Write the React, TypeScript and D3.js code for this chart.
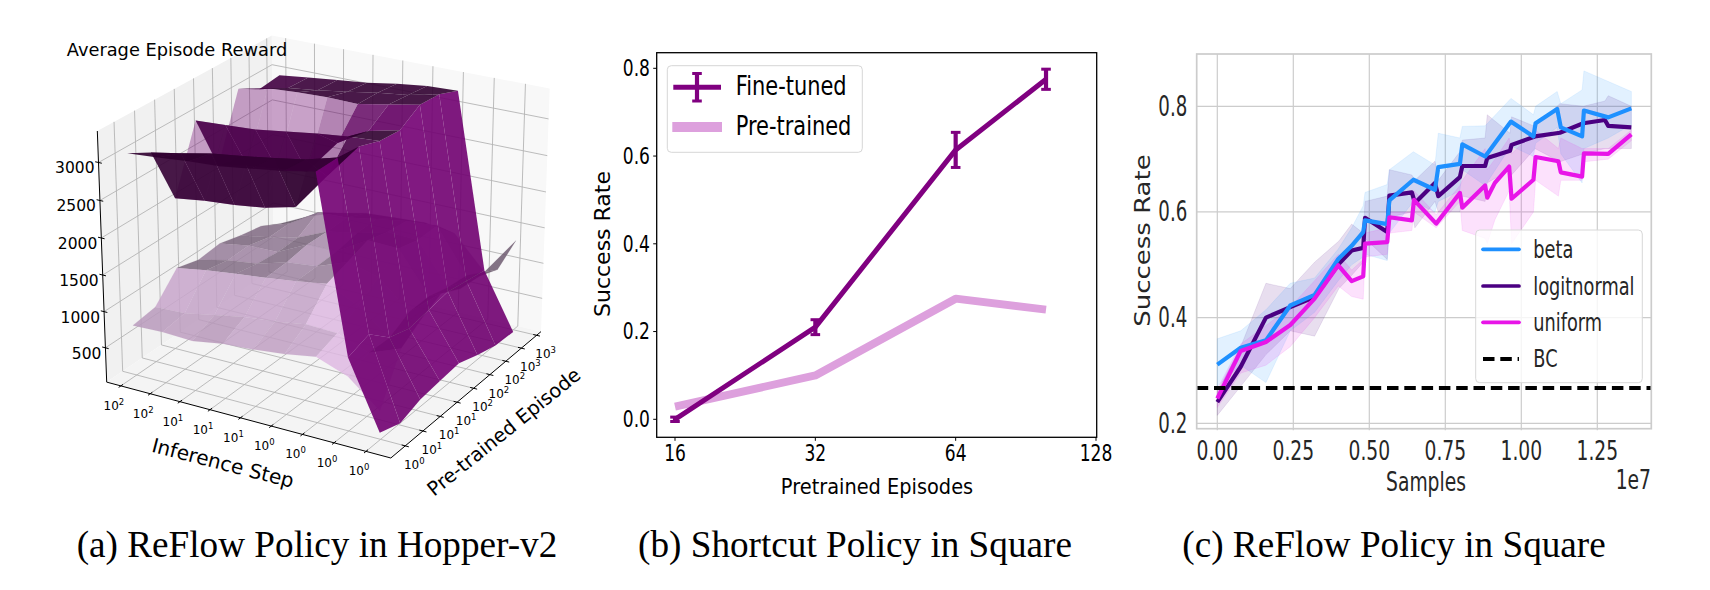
import * as d3 from "d3";

// ---------- panel (a): surfaces, rows run front to back, columns left to right
const fineRow0 = [3107, 3138, 3179, 3201, 3259, 3317, 3400, 1094, 200];
const fineRow1 = [2942, 3018, 3103, 3156, 3219, 3286, 3400, 1192, 100];
const fineRow2 = [2147, 2205, 2241, 2295, 2397, 2893, 3366, 937, 200];
const fineRow3 = [3027, 3050, 3076, 3134, 3192, 3237, 3263, 850, 232];
const fineRow4 = [2237, 2326, 2375, 2420, 2893, 3138, 3232, 900, 263];
const fineRow5 = [3127, 3215, 3243, 3254, 3248, 3322, 3400, 950, 165];
const fineRow6 = [2956, 3054, 3107, 3166, 3234, 3283, 3375, 900, 85];
const fineRow7 = [2990, 3039, 3083, 3127, 3195, 3244, 3258, 850, 70];
const fineRows = [fineRow0, fineRow1, fineRow2, fineRow3, fineRow4, fineRow5, fineRow6, fineRow7];

const plumRow0 = [795, 808, 790, 857, 884, 928, 1000, 844, 490];
const plumRow1 = [844, 857, 937, 1013, 1053, 1120, 1102, 946, 1107];
const plumRow2 = [1187, 1254, 1303, 1348, 1397, 1464, 1268, 933, 1295];
const plumRow3 = [1107, 1196, 1245, 1362, 1406, 1562, 1455, 1080, 1437];
const plumRow4 = [1143, 1210, 1214, 1415, 1420, 1665, 1647, 1089, 1295];
const plumRow5 = [1067, 1134, 1228, 1406, 1478, 1589, 1571, 1013, 1263];
const plumRow6 = [1009, 1143, 1393, 1415, 1487, 1553, 1580, 978, 1160];
const plumRow7 = [862, 1062, 1200, 1290, 1317, 1339, 1277, 830, 1370];
const plumRows = [plumRow0, plumRow1, plumRow2, plumRow3, plumRow4, plumRow5, plumRow6, plumRow7];

const zTicks = [500, 1000, 1500, 2000, 2500, 3000];
const xTickExp = ["2", "2", "1", "1", "1", "0", "0", "0", "0"];
const yTickExp = ["0", "1", "1", "1", "2", "2", "2", "3", "3"];

// ---------- panel (b)
const episodes = [16, 32, 64, 100];
const fineTuned = [0, 0.21, 0.614, 0.775];
const fineTunedErr = [0.005, 0.017, 0.04, 0.023];
const preTrained = [0.029, 0.1, 0.275, 0.25];
const bYTicks = [0, 0.2, 0.4, 0.6, 0.8];
const bXTicks = [16, 32, 64, 128];

// ---------- panel (c)
const betaX = [0, 0.077, 0.16, 0.24, 0.32, 0.398, 0.442, 0.48, 0.486, 0.559, 0.566, 0.645, 0.716, 0.727, 0.798, 0.806, 0.881, 0.966, 1.04, 1.047, 1.118, 1.13, 1.2, 1.206, 1.286, 1.362];
const betaY = [0.311, 0.343, 0.357, 0.423, 0.443, 0.511, 0.536, 0.562, 0.584, 0.577, 0.622, 0.661, 0.642, 0.685, 0.691, 0.728, 0.705, 0.771, 0.743, 0.768, 0.795, 0.76, 0.743, 0.792, 0.779, 0.796];
const betaHi = [0.36, 0.375, 0.415, 0.465, 0.475, 0.53, 0.57, 0.612, 0.637, 0.652, 0.68, 0.714, 0.689, 0.749, 0.74, 0.762, 0.763, 0.815, 0.784, 0.8, 0.828, 0.805, 0.831, 0.867, 0.847, 0.828];
const betaLo = [0.27, 0.31, 0.277, 0.375, 0.41, 0.47, 0.5, 0.515, 0.52, 0.508, 0.56, 0.62, 0.6, 0.62, 0.64, 0.68, 0.65, 0.725, 0.705, 0.73, 0.76, 0.71, 0.655, 0.72, 0.74, 0.765];

const logitX = [0, 0.077, 0.16, 0.24, 0.32, 0.4, 0.442, 0.48, 0.486, 0.559, 0.566, 0.64, 0.65, 0.716, 0.727, 0.798, 0.806, 0.881, 0.888, 0.963, 0.968, 1.045, 1.127, 1.204, 1.275, 1.286, 1.362];
const logitY = [0.24, 0.307, 0.4, 0.42, 0.439, 0.502, 0.527, 0.532, 0.589, 0.562, 0.631, 0.637, 0.617, 0.655, 0.63, 0.666, 0.687, 0.687, 0.702, 0.716, 0.727, 0.743, 0.75, 0.768, 0.774, 0.763, 0.76];
const logitHi = [0.26, 0.345, 0.465, 0.455, 0.505, 0.545, 0.577, 0.56, 0.62, 0.63, 0.68, 0.67, 0.66, 0.696, 0.66, 0.714, 0.736, 0.74, 0.784, 0.749, 0.78, 0.762, 0.805, 0.8, 0.81, 0.82, 0.8];
const logitLo = [0.215, 0.27, 0.33, 0.375, 0.365, 0.455, 0.48, 0.505, 0.55, 0.51, 0.59, 0.6, 0.57, 0.62, 0.6, 0.6, 0.63, 0.62, 0.655, 0.68, 0.67, 0.72, 0.695, 0.71, 0.72, 0.72, 0.72];

const uniformX = [0, 0.077, 0.16, 0.24, 0.32, 0.398, 0.442, 0.48, 0.486, 0.559, 0.566, 0.64, 0.647, 0.72, 0.798, 0.806, 0.881, 0.888, 0.913, 0.96, 0.968, 1.04, 1.047, 1.122, 1.13, 1.2, 1.206, 1.286, 1.362];
const uniformY = [0.247, 0.337, 0.354, 0.386, 0.436, 0.499, 0.469, 0.478, 0.54, 0.543, 0.59, 0.584, 0.623, 0.578, 0.636, 0.608, 0.65, 0.627, 0.655, 0.686, 0.625, 0.661, 0.704, 0.696, 0.675, 0.667, 0.711, 0.71, 0.747];
const uniformHi = [0.265, 0.35, 0.385, 0.42, 0.47, 0.52, 0.49, 0.51, 0.56, 0.57, 0.6, 0.6, 0.64, 0.595, 0.65, 0.66, 0.72, 0.68, 0.7, 0.74, 0.71, 0.75, 0.755, 0.72, 0.74, 0.72, 0.72, 0.72, 0.755];
const uniformLo = [0.23, 0.295, 0.31, 0.345, 0.4, 0.46, 0.44, 0.435, 0.515, 0.52, 0.56, 0.565, 0.6, 0.57, 0.62, 0.565, 0.55, 0.54, 0.585, 0.64, 0.54, 0.6, 0.66, 0.63, 0.66, 0.66, 0.695, 0.7, 0.735];

const bcLevel = 0.2667;
const cXTicks = [0, 0.25, 0.5, 0.75, 1, 1.25];
const cYTicks = [0.2, 0.4, 0.6, 0.8];

const DEJAVU = "'DejaVu Sans', sans-serif";
const SERIF = "'Liberation Serif', serif";

// small text helper: the reference's panels are stretched, so labels need a scale
function T(props: { x: number; y: number; size: number; sx?: number; sy?: number; rot?: number; anchor?: string; fill?: string; font?: string; children: any }) {
  const { x, y, size, sx = 1, sy = 1, rot = 0, anchor = "middle", fill = "#000", font = DEJAVU, children } = props;
  return (
    <text
      transform={`translate(${x},${y}) rotate(${rot}) scale(${sx},${sy})`}
      fontFamily={font}
      fontSize={size}
      textAnchor={anchor}
      dominantBaseline="central"
      fill={fill}
    >
      {children}
    </text>
  );
}

// ---------- matplotlib-like camera, box taller than the default 4:4:3
const boxK = (1.8294640721620434 * (25 / 24)) / Math.hypot(4, 4, 3);
const box = [4 * boxK, 4 * boxK, 3.4 * boxK];
const elev = (23.7 * Math.PI) / 180;
const azim = (-60 * Math.PI) / 180;
const nv = [Math.cos(elev) * Math.cos(azim), Math.cos(elev) * Math.sin(azim), Math.sin(elev)];
const eye = [box[0] / 2 + 10 * nv[0], box[1] / 2 + 10 * nv[1], box[2] / 2 + 10 * nv[2]];
const uL = Math.hypot(nv[1], nv[0]);
const uv = [-nv[1] / uL, nv[0] / uL, 0];
const vv = [nv[1] * uv[2] - nv[2] * uv[1], nv[2] * uv[0] - nv[0] * uv[2], nv[0] * uv[1] - nv[1] * uv[0]];

function rawProject(u: number, v: number, w: number) {
  const d = [u * box[0] - eye[0], v * box[1] - eye[1], w * box[2] - eye[2]];
  const depth = -(d[0] * nv[0] + d[1] * nv[1] + d[2] * nv[2]);
  return {
    x: (d[0] * uv[0] + d[1] * uv[1] + d[2] * uv[2]) / depth,
    y: (d[0] * vv[0] + d[1] * vv[1] + d[2] * vv[2]) / depth,
    depth,
  };
}

const sx3 = d3.scaleLinear().domain([rawProject(0, 0, 0).x, rawProject(1, 1, 0).x]).range([106.7, 541]);
const sy3 = d3.scaleLinear().domain([rawProject(1, 0, 0).y, rawProject(0, 0, 1).y]).range([458, 131]);
const wScale = d3.scaleLinear().domain([20, 3410]).range([0, 1]);
const uGrid = d3.scaleLinear().domain([0, 8]).range([0.07, 0.935]);
const vGrid = d3.scaleLinear().domain([0, 7]).range([0.05, 0.93]);
const uTick = d3.scaleLinear().domain([0, 8]).range([0.0525, 0.917]);
const vTick = d3.scaleLinear().domain([0, 8]).range([0.088, 0.968]);

function P(u: number, v: number, w: number): [number, number] {
  const p = rawProject(u, v, w);
  return [sx3(p.x), sy3(p.y)];
}
const poly = (pts: [number, number][]) => d3.line()(pts) + "Z";

const light = [0.667, -0.667, 0.333];

function buildFacets(rows: number[][], rgb: number[], baseOpacity: number, fadeRising: boolean, zUnit: number) {
  const out: { d: string; fill: string; opacity: number; depth: number }[] = [];
  for (let j = 0; j < rows.length - 1; j++) {
    for (let i = 0; i < rows[j].length - 1; i++) {
      const a = rows[j][i], b = rows[j][i + 1], c = rows[j + 1][i + 1], e = rows[j + 1][i];
      const corners: [number, number, number][] = [
        [uGrid(i), vGrid(j), wScale(a)],
        [uGrid(i + 1), vGrid(j), wScale(b)],
        [uGrid(i + 1), vGrid(j + 1), wScale(c)],
        [uGrid(i), vGrid(j + 1), wScale(e)],
      ];
      const dzdu = (b + c - a - e) / 2;
      const dzdv = (c + e - a - b) / 2;
      const nx = -dzdu / zUnit, ny = -dzdv / zUnit;
      const len = Math.hypot(nx, ny, 1);
      const s = (nx * light[0] + ny * light[1] + light[2]) / len;
      const factor = 0.3 + (0.7 * (s + 1)) / 2;
      let opacity = baseOpacity;
      if (fadeRising) opacity -= Math.max(0, Math.min(1, (dzdv - 200) / 500)) * 0.55;
      const depth = d3.mean(corners, (k) => rawProject(k[0], k[1], k[2]).depth) as number;
      out.push({
        d: poly(corners.map((k) => P(k[0], k[1], k[2]))),
        fill: d3.rgb(rgb[0] * factor, rgb[1] * factor, rgb[2] * factor).formatHex(),
        opacity,
        depth,
      });
    }
  }
  return out.sort((p, q) => q.depth - p.depth);
}

function Surface3D() {
  const plumFacets = buildFacets(plumRows, [226, 188, 230], 0.85, false, 130);
  const fineFacets = buildFacets(fineRows, [128, 0, 128], 0.9, true, 30);
  const gridC = "#b4b4b4";
  const gl = (a: [number, number, number], b: [number, number, number], key: string) => {
    const p = P(a[0], a[1], a[2]), q = P(b[0], b[1], b[2]);
    return <line key={key} x1={p[0]} y1={p[1]} x2={q[0]} y2={q[1]} stroke={gridC} strokeWidth={0.9} />;
  };
  const tickU = d3.range(9).map((k) => uTick(k));
  const tickV = d3.range(9).map((k) => vTick(k));
  return (
    <g>
      <path d={poly([P(0, 0, 0), P(0, 1, 0), P(0, 1, 1), P(0, 0, 1)])} fill="#f1f1f1" />
      <path d={poly([P(0, 1, 0), P(1, 1, 0), P(1, 1, 1), P(0, 1, 1)])} fill="#f8f8f8" />
      <path d={poly([P(0, 0, 0), P(1, 0, 0), P(1, 1, 0), P(0, 1, 0)])} fill="#f4f4f4" />
      {tickU.map((u, i) => (
        <g key={"u" + i}>
          {gl([u, 0, 0], [u, 1, 0], "a")}
          {gl([u, 1, 0], [u, 1, 1], "b")}
        </g>
      ))}
      {tickV.map((v, i) => (
        <g key={"v" + i}>
          {gl([0, v, 0], [1, v, 0], "a")}
          {gl([0, v, 0], [0, v, 1], "b")}
        </g>
      ))}
      {zTicks.map((z) => (
        <g key={"z" + z}>
          {gl([0, 0, wScale(z)], [0, 1, wScale(z)], "a")}
          {gl([0, 1, wScale(z)], [1, 1, wScale(z)], "b")}
        </g>
      ))}
      {plumFacets.map((f, i) => (
        <path key={"p" + i} d={f.d} fill={f.fill} fillOpacity={f.opacity} stroke={f.fill} strokeOpacity={f.opacity * 0.4} strokeWidth={0.3} />
      ))}
      {fineFacets.map((f, i) => (
        <path key={"f" + i} d={f.d} fill={f.fill} fillOpacity={f.opacity} />
      ))}
      {/* axis lines */}
      <path d={d3.line()([P(0, 0, 1), P(0, 0, 0), P(1, 0, 0), P(1, 1, 0)]) as string} fill="none" stroke="#000" strokeWidth={1} />
      {tickU.map((u, i) => {
        const a = P(u, -0.012, 0), b = P(u, 0.012, 0);
        return <line key={"tu" + i} x1={a[0]} y1={a[1]} x2={b[0]} y2={b[1]} stroke="#000" strokeWidth={1} />;
      })}
      {tickV.map((v, i) => {
        const a = P(1 - 0.012, v, 0), b = P(1 + 0.012, v, 0);
        return <line key={"tv" + i} x1={a[0]} y1={a[1]} x2={b[0]} y2={b[1]} stroke="#000" strokeWidth={1} />;
      })}
      {zTicks.map((z) => {
        const a = P(-0.012, 0, wScale(z)), b = P(0.012, 0, wScale(z));
        return <line key={"tz" + z} x1={a[0]} y1={a[1]} x2={b[0]} y2={b[1]} stroke="#000" strokeWidth={1} />;
      })}
      {/* tick labels */}
      {tickU.map((u, i) => {
        const a = P(u, 0, 0);
        return (
          <T key={"lu" + i} x={a[0] - 7} y={a[1] + 20} size={12}>
            10<tspan dy={-4} fontSize={8.5}>{xTickExp[i]}</tspan>
          </T>
        );
      })}
      {tickV.map((v, i) => {
        const a = P(1, v, 0);
        return (
          <T key={"lv" + i} x={a[0] + 9} y={a[1] + 19} size={12}>
            10<tspan dy={-4} fontSize={8.5}>{yTickExp[i]}</tspan>
          </T>
        );
      })}
      {zTicks.map((z) => {
        const a = P(0, 0, wScale(z));
        return <T key={"lz" + z} x={a[0] - 4} y={a[1] + 6} size={15.5} anchor="end">{z}</T>;
      })}
      <T x={177} y={49} size={17.8}>Average Episode Reward</T>
      <T x={223} y={463} size={20} rot={14.5}>Inference Step</T>
      <T x={504} y={432} size={19.5} rot={-39}>Pre-trained Episode</T>
    </g>
  );
}

function ShortcutPanel() {
  const x = d3.scaleLog().base(2).domain([16, 128]).range([675, 1096]);
  const y = d3.scaleLinear().domain([0, 0.8]).range([419.3, 68.3]);
  const left = 656.7, right = 1096.7, top = 52.7, bottom = 437.3;
  const lineGen = d3.line<number>().x((_, i) => x(episodes[i])).y((d) => y(d));
  const purple = "#800080";
  const plum = "#dda0dd";
  return (
    <g>
      <path d={lineGen(preTrained) as string} fill="none" stroke={plum} strokeWidth={8} strokeLinejoin="round" />
      <path d={lineGen(fineTuned) as string} fill="none" stroke={purple} strokeWidth={5} strokeLinejoin="round" />
      {episodes.map((e, i) => {
        const yHi = y(fineTuned[i] + fineTunedErr[i]);
        const yLo = y(fineTuned[i] - fineTunedErr[i]);
        return (
          <g key={e} stroke={purple}>
            <line x1={x(e)} x2={x(e)} y1={yHi} y2={yLo} strokeWidth={4.2} />
            <line x1={x(e) - 4.8} x2={x(e) + 4.8} y1={yHi} y2={yHi} strokeWidth={3} />
            <line x1={x(e) - 4.8} x2={x(e) + 4.8} y1={yLo} y2={yLo} strokeWidth={3} />
          </g>
        );
      })}
      <rect x={left} y={top} width={right - left} height={bottom - top} fill="none" stroke="#000" strokeWidth={1.3} />
      {bYTicks.map((t) => (
        <g key={t}>
          <line x1={left - 3.5} x2={left} y1={y(t)} y2={y(t)} stroke="#000" strokeWidth={1} />
          <T x={650} y={y(t)} size={22.5} sx={0.76} anchor="end">{t.toFixed(1)}</T>
        </g>
      ))}
      {bXTicks.map((t) => (
        <g key={t}>
          <line x1={x(t)} x2={x(t)} y1={bottom} y2={bottom + 3.5} stroke="#000" strokeWidth={1} />
          <T x={x(t)} y={453} size={22.5} sx={0.76}>{t}</T>
        </g>
      ))}
      <T x={603} y={244} size={22} rot={-90} sy={0.94}>Success Rate</T>
      <T x={877} y={487} size={22} sx={0.88}>Pretrained Episodes</T>
      <rect x={667.3} y={65.7} width={195} height={86.6} rx={4} fill="#fff" fillOpacity={0.8} stroke="#d6d6d6" strokeWidth={1} />
      <line x1={673.3} x2={721} y1={87.3} y2={87.3} stroke={purple} strokeWidth={5} />
      <line x1={697} x2={697} y1={73.5} y2={101} stroke={purple} strokeWidth={4.2} />
      <line x1={692.2} x2={701.8} y1={73.5} y2={73.5} stroke={purple} strokeWidth={3} />
      <line x1={692.2} x2={701.8} y1={101} y2={101} stroke={purple} strokeWidth={3} />
      <line x1={672.3} x2={722} y1={127} y2={127} stroke={plum} strokeWidth={10} />
      <T x={735.7} y={86} size={26.5} sx={0.79} anchor="start">Fine-tuned</T>
      <T x={735.7} y={126} size={26.5} sx={0.79} anchor="start">Pre-trained</T>
    </g>
  );
}

function ReflowPanel() {
  const x = d3.scaleLinear().domain([0, 1.25]).range([1217.3, 1597.3]);
  const y = d3.scaleLinear().domain([0.2, 0.8]).range([423.3, 106.3]);
  const left = 1196.7, right = 1651.3, top = 54, bottom = 428.7;
  const series = [
    { name: "logitnormal", color: "#4b0082", xs: logitX, ys: logitY, hi: logitHi, lo: logitLo },
    { name: "beta", color: "#1e90ff", xs: betaX, ys: betaY, hi: betaHi, lo: betaLo },
    { name: "uniform", color: "#e815e8", xs: uniformX, ys: uniformY, hi: uniformHi, lo: uniformLo },
  ];
  const legend = [
    { name: "beta", color: "#1e90ff", yy: 249.3 },
    { name: "logitnormal", color: "#4b0082", yy: 286 },
    { name: "uniform", color: "#e815e8", yy: 322.3 },
  ];
  const grid = "#cccccc";
  return (
    <g>
      {cXTicks.map((t) => (
        <line key={t} x1={x(t)} x2={x(t)} y1={top} y2={bottom + 1.5} stroke={grid} strokeWidth={1.2} />
      ))}
      {cYTicks.map((t) => (
        <line key={t} x1={left} x2={right} y1={y(t)} y2={y(t)} stroke={grid} strokeWidth={1.2} />
      ))}
      {series.map((s) => {
        const area = d3.area<number>().x((_, i) => x(s.xs[i])).y0((_, i) => y(s.lo[i])).y1((_, i) => y(s.hi[i]));
        return <path key={s.name} d={area(s.ys) as string} fill={s.color} fillOpacity={0.13} stroke={s.color} strokeOpacity={0.12} strokeWidth={0.8} />;
      })}
      {series.map((s) => {
        const line = d3.line<number>().x((_, i) => x(s.xs[i])).y((d) => y(d));
        return <path key={s.name} d={line(s.ys) as string} fill="none" stroke={s.color} strokeWidth={4.2} strokeLinejoin="round" />;
      })}
      <line x1={left} x2={right} y1={y(bcLevel)} y2={y(bcLevel)} stroke="#000" strokeWidth={4} strokeDasharray="11.5 5.8" />
      <rect x={left} y={top} width={right - left} height={bottom - top} fill="none" stroke={grid} strokeWidth={1.7} />
      {cYTicks.map((t) => (
        <T key={t} x={1187.3} y={y(t)} size={28} sx={0.65} anchor="end" fill="#262626">{t.toFixed(1)}</T>
      ))}
      {cXTicks.map((t) => (
        <T key={t} x={x(t)} y={451} size={26} sx={0.72} fill="#262626">{t.toFixed(2)}</T>
      ))}
      <T x={1142.7} y={240.5} size={26} rot={-90} sy={0.84} fill="#262626">Success Rate</T>
      <T x={1426} y={482} size={26} sx={0.72} fill="#262626">Samples</T>
      <T x={1651} y={480} size={26} sx={0.72} anchor="end" fill="#262626">1e7</T>
      <rect x={1475.7} y={230} width={166.6} height={152.7} rx={4} fill="#fff" fillOpacity={0.8} stroke="#d8d8d8" strokeWidth={1} />
      {legend.map((l) => (
        <g key={l.name}>
          <line x1={1483} x2={1519} y1={l.yy} y2={l.yy} stroke={l.color} strokeWidth={3.7} strokeLinecap="round" />
          <T x={1533.3} y={l.yy} size={24} sx={0.74} anchor="start" fill="#262626">{l.name}</T>
        </g>
      ))}
      <line x1={1483} x2={1519} y1={359} y2={359} stroke="#000" strokeWidth={4} strokeDasharray="11.5 5.8" />
      <T x={1533.3} y={358} size={24} sx={0.74} anchor="start" fill="#262626">BC</T>
    </g>
  );
}

export default function App() {
  return (
    <svg width={1710} height={590} viewBox="0 0 1710 590" style={{ position: "absolute", left: 0, top: 0, background: "#fff" }}>
      <Surface3D />
      <ShortcutPanel />
      <ReflowPanel />
      <text x={317} y={557} fontFamily={SERIF} fontSize={37.2} textAnchor="middle">(a) ReFlow Policy in Hopper-v2</text>
      <text x={855} y={557} fontFamily={SERIF} fontSize={37.2} textAnchor="middle">(b) Shortcut Policy in Square</text>
      <text x={1394} y={557} fontFamily={SERIF} fontSize={37.2} textAnchor="middle">(c) ReFlow Policy in Square</text>
    </svg>
  );
}
